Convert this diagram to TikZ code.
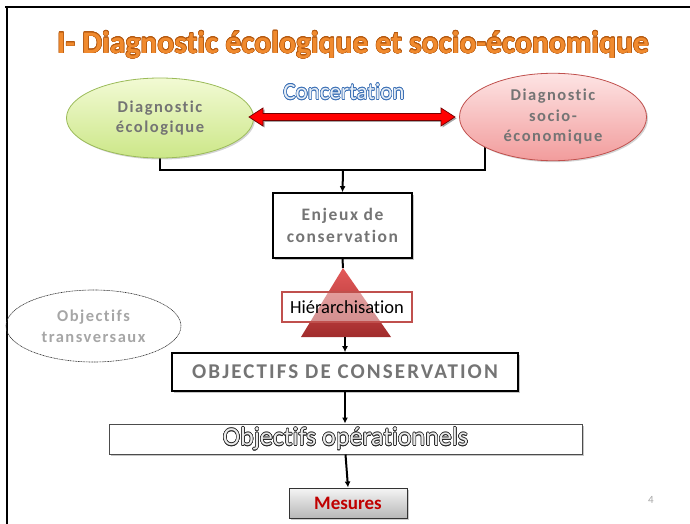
\documentclass[tikz,border=0pt]{standalone}
\usepackage{fontspec}
\setmainfont[RawFeature={-liga;-clig;-dlig}]{Carlito}
\newfontfamily\spfont[LetterSpace=9,RawFeature={-liga;-clig;-dlig}]{Carlito}
\newfontfamily\spcaps[LetterSpace=10,RawFeature={-liga;-clig;-dlig}]{Carlito}
\usepackage[copies]{contour}
\usetikzlibrary{arrows.meta,calc,shadows,backgrounds,shapes.geometric}
\definecolor{titleor}{HTML}{F08A2E}
\definecolor{titleordk}{HTML}{B4580F}
\definecolor{txtgray}{HTML}{747474}
\definecolor{ltgray}{HTML}{A6A6A6}
\definecolor{grnedge}{HTML}{9BBB59}
\definecolor{grntop}{HTML}{F2FAD4}
\definecolor{grnbot}{HTML}{CCE788}
\definecolor{rededge}{HTML}{C0504D}
\definecolor{redtop}{HTML}{FDE4E4}
\definecolor{redbot}{HTML}{F29C9C}
\definecolor{conblue}{HTML}{3A6FB5}
\definecolor{trtop}{HTML}{E45A5A}
\definecolor{trbot}{HTML}{A12C2C}
\definecolor{mesred}{HTML}{C00000}
\tikzset{
  diag/.style={ellipse, minimum width=187pt, minimum height=80pt, align=center,
    font=\spfont\bfseries\fontsize{16.5}{20.5}\selectfont, text=txtgray, line width=0.8pt,
    drop shadow={shadow xshift=1.5pt, shadow yshift=-1.5pt, opacity=0.35}},
  boxsty/.style={draw=black, line width=1.6pt, fill=white,
    drop shadow={shadow xshift=2pt, shadow yshift=-2pt, opacity=0.45}},
  conn/.style={line width=2pt, black},
  arr/.style={conn, -{Latex[length=6pt,width=6pt]}}
}
\begin{document}
\begin{tikzpicture}[x=1pt,y=-1pt]
\useasboundingbox (0,0) rectangle (690,524);
% frame
\draw[line width=2.5pt] (5,7) -- (690,7);
\draw[line width=2.5pt] (7,5.8) -- (7,524);
% title
\contourlength{0.5pt}
\node (title) at (353,45) {\fontsize{31.5}{36}\selectfont\bfseries\contour{titleordk}{\textcolor{titleor}{I- Diagnostic écologique et socio-économique}}};
% ellipses
\node[diag, draw=grnedge, top color=grntop, bottom color=grnbot] (green) at (160,118) {Diagnostic\\écologique};
\node[diag, draw=rededge, top color=redtop, bottom color=redbot] (red) at (553,117) {Diagnostic\\socio-\\économique};
% concertation
\node (concert) at (344,92) {\fontsize{23}{26}\selectfont\contourlength{0.6pt}\contour{conblue}{\textcolor{white!88!conblue}{Concertation}}};
% double arrow
\coordinate (al) at (249,117);
\coordinate (ar) at (455,117);
\fill[black!35] ($(al)+(1.5,1.5)$) -- ($(al)+(15.5,-7.5)$) -- ($(al)+(15.5,-2)$) -- ($(ar)+(-12.5,-2)$) -- ($(ar)+(-12.5,-7.5)$) -- ($(ar)+(1.5,1.5)$) -- ($(ar)+(-12.5,10.5)$) -- ($(ar)+(-12.5,5)$) -- ($(al)+(15.5,5)$) -- ($(al)+(15.5,10.5)$) -- cycle;
\draw[fill=red, draw=red!45!black, line width=0.7pt] (al) -- ($(al)+(14,-9)$) -- ($(al)+(14,-3.5)$) -- ($(ar)+(-14,-3.5)$) -- ($(ar)+(-14,-9)$) -- (ar) -- ($(ar)+(-14,9)$) -- ($(ar)+(-14,3.5)$) -- ($(al)+(14,3.5)$) -- ($(al)+(14,9)$) -- cycle;
% enjeux
\node[boxsty, minimum width=139pt, minimum height=65pt, align=center,
  font=\spfont\bfseries\fontsize{17.5}{22}\selectfont, text=txtgray] (enjeux) at (342.5,225.5) {Enjeux de\\conservation};
\coordinate (j) at (343,170);
\begin{pgfonlayer}{background}
\draw[conn] (green.south) |- (j) -| (red.204);
\end{pgfonlayer}
\draw[arr] (j) -- (enjeux.north);
% triangle
\coordinate (tritop) at (343,268);
\coordinate (tribot) at (345,337);
\draw[conn] (enjeux.south) -- (tritop);
\shade[top color=trtop, bottom color=trbot] (tritop) -- (391,337) -- (301,337) -- cycle;
\node[draw=rededge, line width=1.6pt, fill=white, fill opacity=0.45, text opacity=1,
  minimum width=130pt, minimum height=30pt, font=\fontsize{18.5}{22}\selectfont] (hier) at (347,307) {Hiérarchisation};
% objectifs de conservation
\node[boxsty, minimum width=346pt, minimum height=38pt,
  font=\spcaps\bfseries\fontsize{21}{24}\selectfont, text=txtgray] (objc) at (345,372) {OBJECTIFS DE CONSERVATION};
\draw[arr] (tribot) -- (tribot |- objc.north);
% objectifs operationnels
\node[draw=black!70, line width=1pt, fill=white, minimum width=473pt, minimum height=30pt,
  drop shadow={shadow xshift=1.5pt, shadow yshift=-1.5pt, opacity=0.45}] (objo) at (345.5,439)
  {\fontsize{26}{30}\selectfont\contourlength{0.55pt}\contour{black!85}{\textcolor{white!92!black}{Objectifs opérationnels}}};
\draw[arr] (objc.south) -- (objc.south |- objo.north);
% mesures
\node[draw=black!80, line width=1pt, top color=white!96!black, bottom color=black!28,
  minimum width=118pt, minimum height=30pt, font=\bfseries\fontsize{19}{22}\selectfont, text=mesred,
  drop shadow={shadow xshift=1.5pt, shadow yshift=-1.5pt, opacity=0.4}] (mes) at (348,503) {Mesures};
\draw[arr] (objo.south) -- (mes.north);
% objectifs transversaux
\node[ellipse, draw=black!80, dashed, dash pattern=on 1pt off 0.6pt, line width=0.6pt, minimum width=175pt, minimum height=72pt,
  align=center, font=\spfont\bfseries\fontsize{16.5}{21}\selectfont, text=ltgray] (transv) at (93.5,326) {Objectifs\\transversaux};
% page number
\node[text=ltgray, font=\fontsize{11}{12}\selectfont] (pnum) at (651,500) {4};
\end{tikzpicture}
\end{document}
